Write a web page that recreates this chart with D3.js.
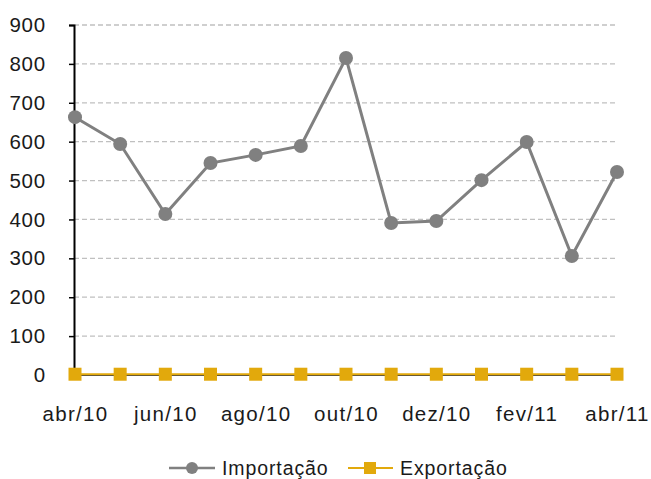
<!DOCTYPE html>
<html><head><meta charset="utf-8">
<script src="https://cdn.jsdelivr.net/npm/d3@7"></script>
<style>body{margin:0;background:#fff}svg{display:block}text{font-family:"Liberation Sans",Arial,sans-serif;fill:#1a1a1a}</style>
</head><body><svg id="c" width="651" height="479"></svg>
<script>
const categories=["abr/10","mai/10","jun/10","jul/10","ago/10","set/10","out/10","nov/10","dez/10","jan/11","fev/11","mar/11","abr/11"];
const importacao=[663,594,414,545,566,589,815,391,396,501,599,306,522];
const exportacao=[2,2,2,2,2,2,2,2,2,2,2,2,2];
const yTicks=[0,100,200,300,400,500,600,700,800,900];
const svg=d3.select("#c");
const x=d3.scalePoint().domain(categories).range([75,617]);
const y=d3.scaleLinear().domain([0,900]).range([375,25]);
const xAxisX=74;
// gridlines
svg.append("g").selectAll("line").data(yTicks.filter(d=>d>0)).join("line")
 .attr("x1",xAxisX).attr("x2",617).attr("y1",d=>y(d)).attr("y2",d=>y(d))
 .attr("stroke","#c0c0c0").attr("stroke-width",1.3).attr("stroke-dasharray","5,3");
// y axis
const ya=svg.append("g").attr("transform",`translate(${xAxisX},0)`).call(d3.axisLeft(y).tickValues(yTicks).tickSize(5).tickPadding(23).tickFormat(d3.format("d")));
ya.select(".domain").attr("stroke","#000").attr("stroke-width",2);
ya.selectAll(".tick line").attr("stroke","#000").attr("stroke-width",1.5);
ya.selectAll("text").attr("font-size",20.5).attr("letter-spacing",0.8).attr("font-family","Liberation Sans, Arial, sans-serif").attr("fill","#1a1a1a");
// x axis
const labeled=categories.filter((d,i)=>i%2===0);
const xa=svg.append("g").attr("transform",`translate(0,${y(0)})`).call(d3.axisBottom(x).tickValues(labeled).tickSize(4));
xa.select(".domain").attr("stroke","#000").attr("stroke-width",1.5).attr("d",`M${xAxisX},0H617`);
xa.selectAll(".tick line").attr("stroke","#000").attr("stroke-width",1);
xa.selectAll("text").attr("y",46).attr("dy",0).attr("font-size",20.5).attr("letter-spacing",1.3).attr("font-family","Liberation Sans, Arial, sans-serif").attr("fill","#1a1a1a");
// lines
const line=d3.line().x((d,i)=>x(categories[i])).y(d=>y(d));
const gray="#808080", gold="#E2A90C";
svg.append("path").datum(exportacao).attr("d",line).attr("fill","none").attr("stroke",gold).attr("stroke-width",2);
svg.append("g").selectAll("rect").data(exportacao).join("rect")
 .attr("x",(d,i)=>x(categories[i])-6.5).attr("y",d=>y(d)-6.5).attr("width",13).attr("height",13).attr("fill",gold);
svg.append("path").datum(importacao).attr("d",line).attr("fill","none").attr("stroke",gray).attr("stroke-width",3);
svg.append("g").selectAll("circle").data(importacao).join("circle")
 .attr("cx",(d,i)=>x(categories[i])).attr("cy",d=>y(d)).attr("r",7).attr("fill",gray);
// legend
const lg=svg.append("g");
lg.append("line").attr("x1",169).attr("x2",215).attr("y1",468).attr("y2",468).attr("stroke",gray).attr("stroke-width",2.5);
lg.append("circle").attr("cx",192).attr("cy",468).attr("r",6).attr("fill",gray);
lg.append("text").attr("x",222).attr("y",475).attr("font-size",19.5).attr("letter-spacing",0.9).text("Importação");
lg.append("line").attr("x1",348).attr("x2",393).attr("y1",468).attr("y2",468).attr("stroke",gold).attr("stroke-width",2);
lg.append("rect").attr("x",364).attr("y",462).attr("width",12).attr("height",12).attr("fill",gold);
lg.append("text").attr("x",400).attr("y",475).attr("font-size",19.5).attr("letter-spacing",0.9).text("Exportação");
</script></body></html>
